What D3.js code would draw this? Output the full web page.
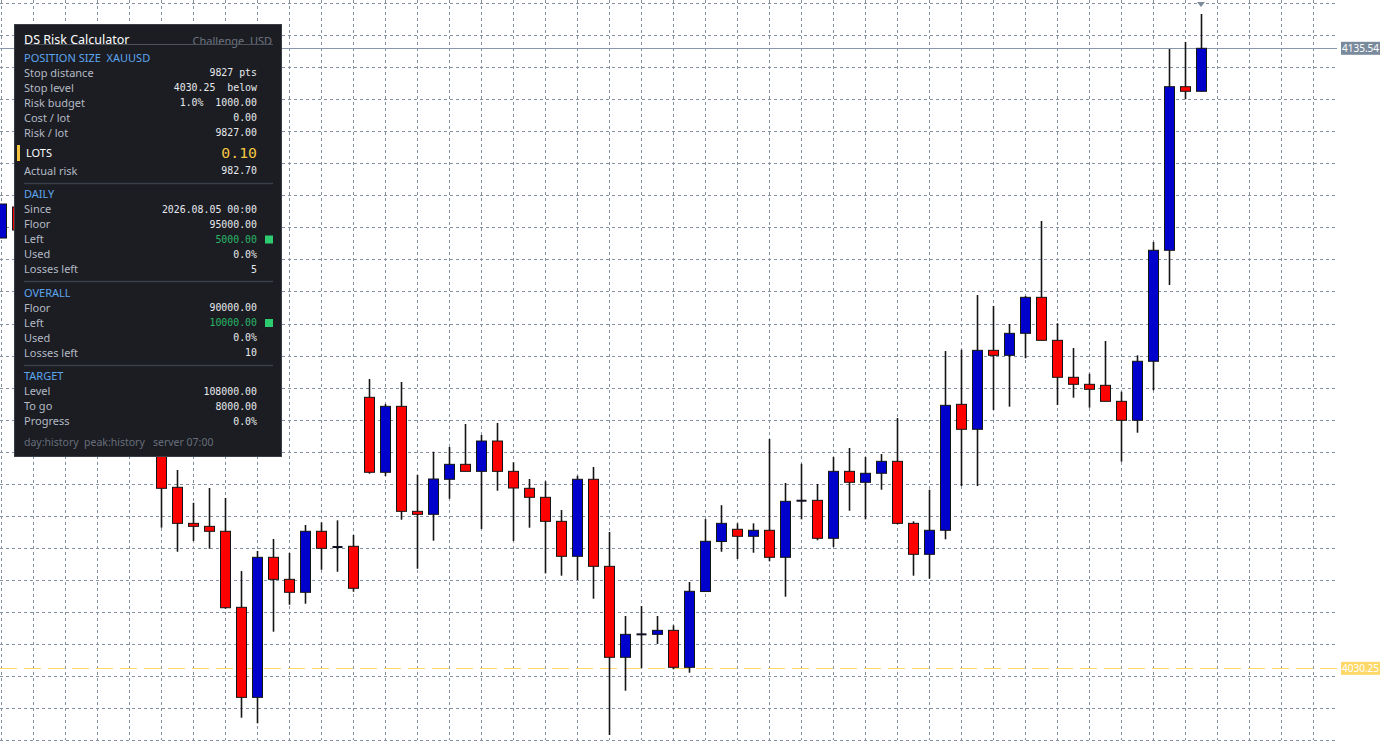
<!DOCTYPE html>
<html><head><meta charset="utf-8">
<script src="https://cdn.jsdelivr.net/npm/d3@7/dist/d3.min.js"></script>
<style>html,body{margin:0;padding:0;background:#fff;overflow:hidden} svg text{white-space:pre}</style>
</head><body><div id="chart"></div>
<script>
// ---------- DATA ----------
const bars   = [0,1,10,11,12,13,14,15,16,17,18,19,20,21,22,23,24,25,26,27,28,29,30,31,32,33,34,35,36,37,38,39,40,41,42,43,44,45,46,47,48,49,50,51,52,53,54,55,56,57,58,59,60,61,62,63,64,65,66,67,68,69,70,71,72,73,74,75];
const opens  = [4103.32,4108.59,4069.02,4060.99,4054.87,4054.36,4053.52,4040.61,4025.32,4049.10,4045.36,4043.16,4053.52,4050.85,4050.97,4076.27,4063.54,4074.74,4056.91,4056.40,4062.35,4064.89,4063.70,4068.85,4063.70,4060.82,4059.29,4055.21,4049.27,4062.35,4047.57,4032.12,4036.02,4036.02,4036.70,4030.42,4043.29,4051.78,4053.86,4052.67,4053.69,4049.10,4058.71,4058.78,4052.33,4063.70,4061.84,4063.37,4065.40,4054.87,4049.61,4053.69,4075.08,4070.84,4084.25,4083.40,4087.14,4093.25,4085.95,4079.67,4078.48,4078.31,4075.59,4072.37,4082.39,4101.24,4129.02,4128.24];
const highs  = [4109.10,4108.59,4070.72,4063.93,4058.37,4060.87,4059.17,4046.77,4050.17,4052.21,4049.83,4054.59,4055.04,4055.38,4052.89,4079.38,4075.13,4078.87,4063.08,4067.03,4067.83,4071.74,4069.87,4071.91,4065.23,4062.40,4062.01,4057.13,4062.96,4064.44,4053.40,4039.13,4040.83,4039.13,4037.55,4044.91,4055.60,4057.95,4054.87,4054.87,4069.19,4061.72,4064.99,4061.55,4066.13,4067.66,4066.13,4066.64,4072.76,4055.21,4060.58,4084.13,4084.36,4093.64,4091.78,4088.72,4093.47,4106.21,4088.84,4084.64,4080.28,4085.83,4077.22,4083.40,4102.65,4135.42,4136.61,4141.36];
const lows   = [4103.32,4104.68,4054.13,4050.05,4051.87,4050.56,4040.37,4021.86,4020.91,4036.47,4041.05,4041.22,4046.99,4046.65,4043.26,4063.30,4062.91,4055.49,4047.16,4051.92,4059.05,4063.70,4053.91,4060.41,4051.87,4054.13,4046.38,4045.98,4045.24,4042.07,4018.92,4026.45,4030.30,4034.38,4030.08,4029.50,4043.29,4050.05,4048.81,4049.88,4048.42,4042.41,4055.55,4051.99,4050.85,4057.01,4055.55,4060.58,4054.70,4045.98,4045.47,4052.16,4061.21,4061.21,4074.12,4074.68,4082.89,4085.95,4074.96,4076.20,4074.51,4075.59,4065.34,4070.26,4077.46,4095.34,4126.88,4128.24];
const closes = [4109.10,4104.68,4060.82,4054.87,4054.36,4053.52,4040.54,4025.32,4049.10,4045.36,4043.16,4053.52,4050.63,4050.85,4043.84,4063.54,4074.74,4056.91,4056.40,4062.40,4064.89,4063.70,4068.85,4063.70,4060.87,4059.29,4055.21,4049.27,4062.35,4047.57,4032.12,4036.02,4036.02,4036.70,4030.42,4043.33,4051.82,4054.87,4052.67,4053.69,4049.10,4058.61,4058.71,4052.33,4063.70,4061.84,4063.37,4065.40,4054.87,4049.61,4053.69,4074.91,4070.84,4084.25,4083.40,4087.14,4093.25,4085.95,4079.67,4078.48,4077.63,4075.59,4072.37,4082.39,4101.24,4129.02,4128.24,4135.54];

const bidPrice  = 4135.54;
const stopPrice = 4030.25;
const gridTopPrice = 4143.23;
const gridStepPrice = 5.443;

// panel content
const panelTitle = "DS Risk Calculator";
const panelMode  = "Challenge  USD";
const panelRows = [
  ["head","POSITION SIZE  XAUUSD",""],
  ["row","Stop distance","9827 pts"],
  ["row","Stop level","4030.25  below"],
  ["row","Risk budget","1.0%  1000.00"],
  ["row","Cost / lot","0.00"],
  ["row","Risk / lot","9827.00"],
  ["lots","LOTS","0.10"],
  ["row","Actual risk","982.70"],
  ["div","",""],
  ["head","DAILY",""],
  ["row","Since","2026.08.05 00:00"],
  ["row","Floor","95000.00"],
  ["green","Left","5000.00"],
  ["row","Used","0.0%"],
  ["row","Losses left","5"],
  ["div","",""],
  ["head","OVERALL",""],
  ["row","Floor","90000.00"],
  ["green","Left","10000.00"],
  ["row","Used","0.0%"],
  ["row","Losses left","10"],
  ["div","",""],
  ["head","TARGET",""],
  ["row","Level","108000.00"],
  ["row","To go","8000.00"],
  ["row","Progress","0.0%"],
  ["foot","day:history  peak:history   server 07:00",""]
];

// ---------- LAYOUT ----------
const W = 1387, H = 754;
const svg = d3.select("#chart").append("svg").attr("width", W).attr("height", H)
  .style("font-family", "'Noto Sans', sans-serif");

const x = d3.scaleLinear().domain([0, 82]).range([1, 1313]);
const y = d3.scaleLinear().domain([4015.70, 4143.742]).range([754, 0]);
const plotRight = 1337;

// grid
const gridPrices = d3.range(0, 24).map(k => gridTopPrice - k * gridStepPrice);
const gridBars = d3.range(0, 83, 2);
const g = svg.append("g");
g.selectAll(".hg").data(gridPrices).enter().append("line")
  .attr("x1", 0).attr("x2", plotRight)
  .attr("y1", d => Math.round(y(d)) + 0.5).attr("y2", d => Math.round(y(d)) + 0.5)
  .attr("stroke", "#8592a3").attr("stroke-width", 1).attr("stroke-dasharray", "3,3");
g.selectAll(".vg").data(gridBars).enter().append("line")
  .attr("y1", 0).attr("y2", 740)
  .attr("x1", d => Math.round(x(d)) + 0.5).attr("x2", d => Math.round(x(d)) + 0.5)
  .attr("stroke", "#8592a3").attr("stroke-width", 1).attr("stroke-dasharray", "3,3");

// stop line (yellow dashed)
svg.append("line").attr("x1", 0).attr("x2", plotRight)
  .attr("y1", Math.round(y(stopPrice)) + 0.5).attr("y2", Math.round(y(stopPrice)) + 0.5)
  .attr("stroke", "#fdd868").attr("stroke-width", 1).attr("stroke-dasharray", "17,7");

// bid line
svg.append("line").attr("x1", 0).attr("x2", plotRight)
  .attr("y1", Math.round(y(bidPrice)) + 0.5).attr("y2", Math.round(y(bidPrice)) + 0.5)
  .attr("stroke", "#8797aa").attr("stroke-width", 1);

// candles
const candles = bars.map((b, i) => ({b, o: opens[i], h: highs[i], l: lows[i], c: closes[i]}));
const cg = svg.append("g");
const bw = 10;
candles.forEach(d => {
  const cx = Math.round(x(d.b)) + 0.5;
  cg.append("line").attr("x1", cx).attr("x2", cx)
    .attr("y1", y(d.h)).attr("y2", y(d.l))
    .attr("stroke", "#151515").attr("stroke-width", 1.6);
  if (d.o === d.c) {
    cg.append("line").attr("x1", cx - bw/2).attr("x2", cx + bw/2)
      .attr("y1", y(d.o)).attr("y2", y(d.o))
      .attr("stroke", "#101020").attr("stroke-width", 2);
  } else {
    const top = y(Math.max(d.o, d.c)), bot = y(Math.min(d.o, d.c));
    cg.append("rect").attr("x", cx - bw/2).attr("width", bw)
      .attr("y", top).attr("height", Math.max(1, bot - top))
      .attr("fill", d.c > d.o ? "#0000cc" : "#ff0000")
      .attr("stroke", "#151515").attr("stroke-width", 1);
  }
});

// last bar marker
const last = bars[bars.length - 1];
svg.append("path")
  .attr("d", `M${x(last) - 4},2 L${x(last) + 4},2 L${x(last)},7 Z`)
  .attr("fill", "#7c8a9b");

// price labels
function priceLabel(p, bg, fg) {
  const yy = y(p);
  svg.append("rect").attr("x", 1341).attr("y", yy - 6.5).attr("width", 39).attr("height", 13).attr("fill", bg);
  svg.append("text").attr("x", 1360.5).attr("y", yy).attr("dy", "0.35em")
    .attr("text-anchor", "middle").attr("fill", fg)
    .style("font-size", "10px").style("font-family", "'Noto Sans', sans-serif")
    .text(p.toFixed(2));
}
priceLabel(bidPrice, "#7a8a9d", "#ffffff");
priceLabel(stopPrice, "#fdd868", "#ffffff");

// ---------- PANEL ----------
const P = svg.append("g");
P.append("rect").attr("x", 14.5).attr("y", 24.5).attr("width", 267).attr("height", 432)
  .attr("fill", "#1b1d23").attr("stroke", "#3a3e47").attr("stroke-width", 1);
P.append("text").attr("x", 24).attr("y", 40).attr("dy", "0.35em")
  .attr("fill", "#ffffff").style("font-size", "12.5px").text(panelTitle);
P.append("text").attr("x", 272).attr("y", 41).attr("dy", "0.35em").attr("text-anchor", "end")
  .attr("fill", "#6f7580").style("font-size", "11px").text(panelMode);
P.append("line").attr("x1", 24).attr("x2", 273).attr("y1", 44.5).attr("y2", 44.5)
  .attr("stroke", "#4d525c").attr("stroke-width", 1);

const mono = "'DejaVu Sans Mono', monospace";
let cy = 58;
let prev = null;
panelRows.forEach(r => {
  const [type, label, value] = r;
  if (prev !== null) {
    if (type === "head") cy += (prev === "div" ? 12 : 18);
    else if (type === "div") cy += 11.5;
    else if (type === "lots") cy += 20;
    else if (type === "foot") cy += 21;
    else if (prev === "lots") cy += 18;
    else if (prev === "div") cy += 12;
    else cy += 15;
  }
  if (type === "div") {
    P.append("line").attr("x1", 24).attr("x2", 273).attr("y1", Math.round(cy) + 0.5).attr("y2", Math.round(cy) + 0.5)
      .attr("stroke", "#3b3f48").attr("stroke-width", 1.5);
  } else if (type === "head") {
    P.append("text").attr("x", 24).attr("y", cy).attr("dy", "0.35em")
      .attr("fill", "#5ea5ee").style("font-size", "11px").text(label);
  } else if (type === "foot") {
    P.append("text").attr("x", 24).attr("y", cy).attr("dy", "0.35em")
      .attr("fill", "#686e79").style("font-size", "10.5px").text(label);
  } else {
    const isLots = type === "lots";
    if (isLots) {
      P.append("rect").attr("x", 17).attr("y", cy - 8).attr("width", 3).attr("height", 16).attr("fill", "#f5c542");
    }
    P.append("text").attr("x", isLots ? 26 : 24).attr("y", cy).attr("dy", "0.35em")
      .attr("fill", isLots ? "#ffffff" : "#b4b9c3").style("font-size", "11px").text(label);
    P.append("text").attr("x", 257).attr("y", cy).attr("dy", "0.35em").attr("text-anchor", "end")
      .attr("fill", isLots ? "#f5c542" : (type === "green" ? "#2bb366" : "#e6e8ec"))
      .style("font-family", mono).style("font-size", isLots ? "14.8px" : "9.9px")
      .text(value);
    if (type === "green") {
      P.append("rect").attr("x", 265).attr("y", cy - 4).attr("width", 8).attr("height", 8).attr("fill", "#2ecc71");
    }
  }
  prev = type;
});
</script>
</body></html>
